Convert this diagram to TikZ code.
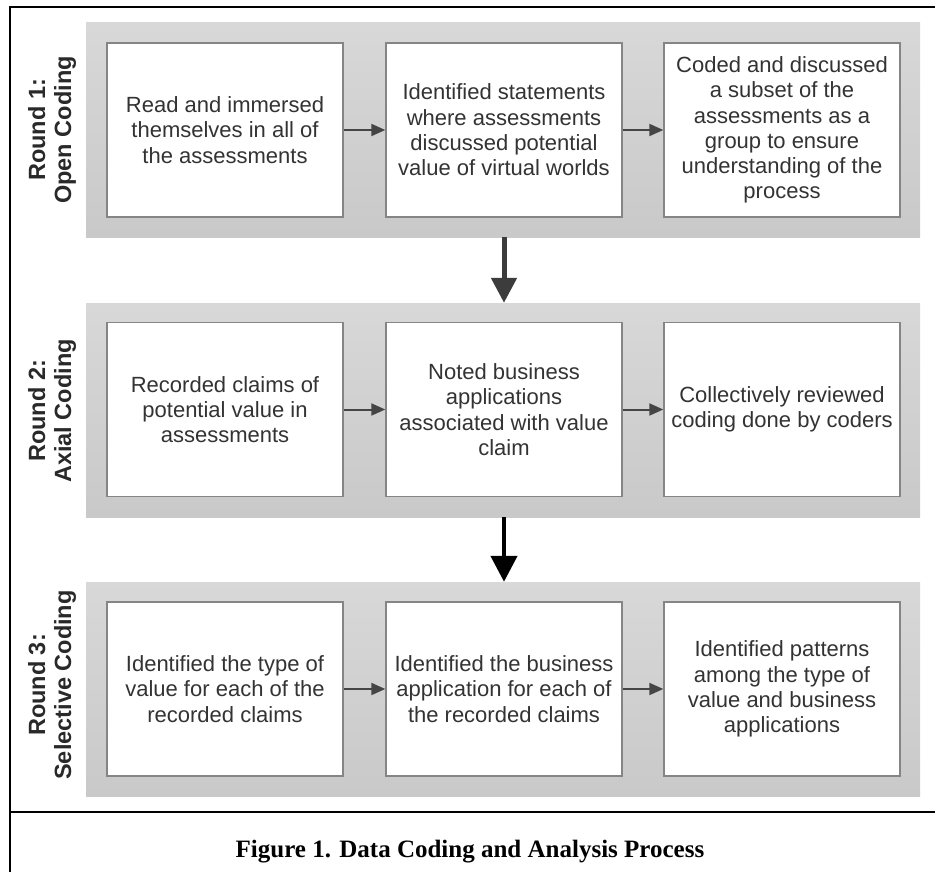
\documentclass[tikz,border=0pt]{standalone}
\usepackage{fontspec}
\setmainfont{Liberation Sans}
\newfontfamily\capserif{Liberation Serif}
\usetikzlibrary{arrows.meta}
\definecolor{bandtop}{HTML}{D8D8D8}
\definecolor{bandbot}{HTML}{C9C9C9}
\definecolor{boxline}{HTML}{858585}
\definecolor{boxtext}{HTML}{333333}
\definecolor{harrowc}{HTML}{454545}
\definecolor{varrowc}{HTML}{3C3C3C}
\tikzset{
  band/.style={draw=none, top color=bandtop, bottom color=bandbot, minimum width=834pt, minimum height=214pt, inner sep=0pt},
  stepbox/.style={draw=boxline, line width=1.4pt, fill=white, minimum width=236pt, minimum height=174pt, inner sep=0pt, align=center, text=boxtext, font=\fontsize{22}{25.3}\selectfont},
  roundlab/.style={rotate=90, align=center, text=boxtext!80!black, font=\fontsize{23.5}{26}\selectfont\bfseries, inner sep=0pt},
  harrow/.style={draw=harrowc, line width=2pt, -{Triangle[length=14pt, width=12pt]}},
  varrowA/.style={draw=varrowc, line width=5pt, -{Triangle[length=25pt, width=25pt]}},
  varrowB/.style={draw=black, line width=4.5pt, -{Triangle[length=26pt, width=26pt]}},
}
\begin{document}
\begin{tikzpicture}[x=1pt, y=-1pt]
\useasboundingbox (0,0) rectangle (935,872);
% outer frame
\draw[line width=2.5pt] (10,7) rectangle (940,880);
\coordinate (sepL) at (10,812);
\coordinate (sepR) at (940,812);
\draw[line width=2.5pt] (sepL) -- (sepR);
% bands
\node[band] (band1) at (503,130) {};
\node[band] (band2) at (503,410) {};
\node[band] (band3) at (503,689) {};
% labels
\node[roundlab] (lab1) at (52,130) {Round 1:\\Open Coding};
\node[roundlab] (lab2) at (52,411) {Round 2:\\Axial Coding};
\node[roundlab] (lab3) at (52,685) {Round 3:\\Selective Coding};
% row 1
\node[stepbox] (b11) at (225,130) {Read and immersed\\themselves in all of\\the assessments};
\node[stepbox] (b12) at (504,130) {Identified statements\\where assessments\\discussed potential\\value of virtual worlds};
\node[stepbox] (b13) at (782,130) {Coded and discussed\\a subset of the\\assessments as a\\group to ensure\\understanding of the\\process};
% row 2
\node[stepbox] (b21) at (225,409.5) {Recorded claims of\\potential value in\\assessments};
\node[stepbox] (b22) at (504,409.5) {Noted business\\applications\\associated with value\\claim};
\node[stepbox] (b23) at (782,409.5) {Collectively reviewed\\coding done by coders};
% row 3
\node[stepbox] (b31) at (225,689) {Identified the type of\\value for each of the\\recorded claims};
\node[stepbox] (b32) at (504,689) {Identified the business\\application for each of\\the recorded claims};
\node[stepbox] (b33) at (782,689) {Identified patterns\\among the type of\\value and business\\applications};
% horizontal arrows
\draw[harrow] (b11.east) -- (b12.west);
\draw[harrow] (b12.east) -- (b13.west);
\draw[harrow] (b21.east) -- (b22.west);
\draw[harrow] (b22.east) -- (b23.west);
\draw[harrow] (b31.east) -- (b32.west);
\draw[harrow] (b32.east) -- (b33.west);
% vertical arrows
\draw[varrowA] (band1.south -| b12.center) -- (band2.north -| b22.center);
\draw[varrowB] (band2.south -| b22.center) -- (band3.north -| b32.center);
% caption
\node[font=\capserif\bfseries\fontsize{25}{30}\selectfont, inner sep=0pt] (caption) at (470,852) {Figure 1. Data Coding and Analysis Process};
\end{tikzpicture}
\end{document}
